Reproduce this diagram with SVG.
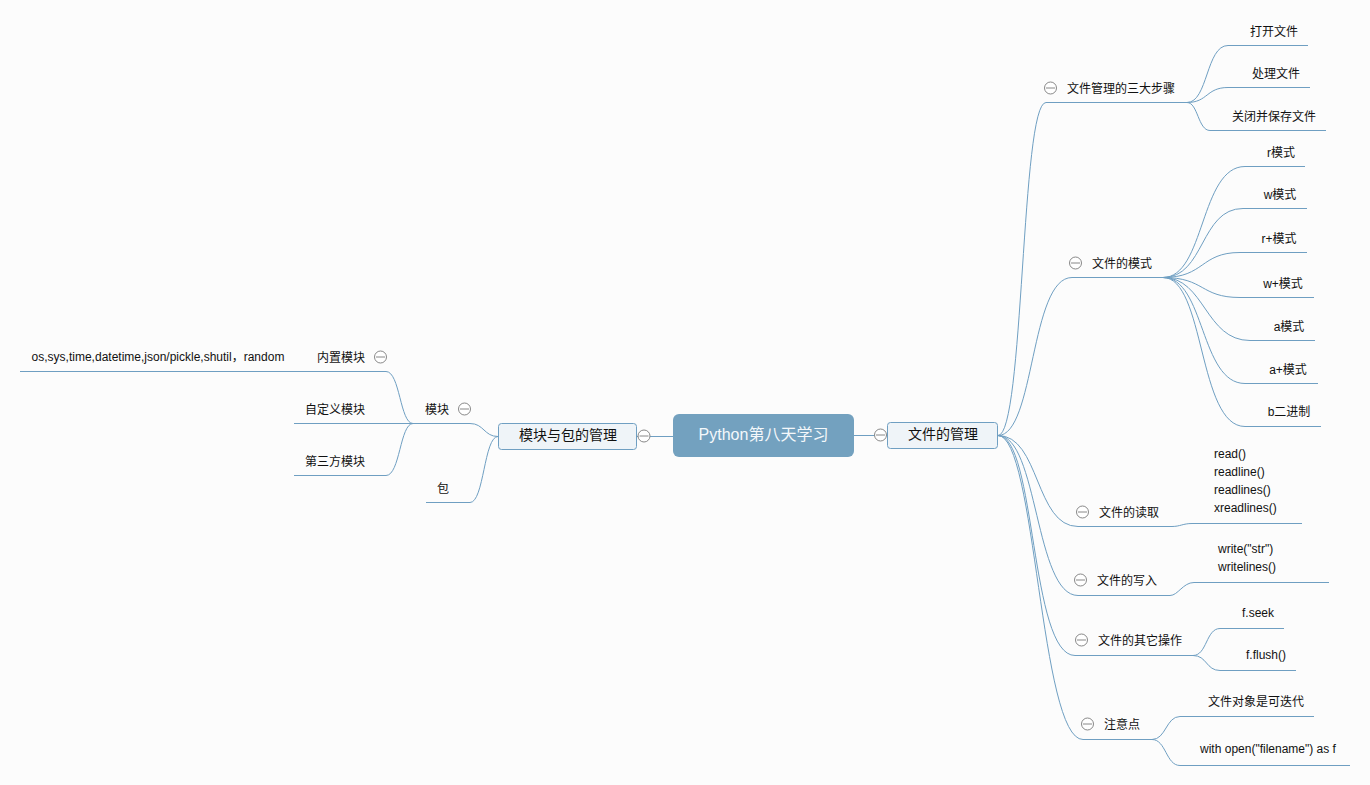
<svg xmlns="http://www.w3.org/2000/svg" width="1370" height="785" viewBox="0 0 1370 785">
<style>
text{font-family:"Liberation Sans","Noto Sans CJK SC",sans-serif;font-size:12px;fill:#111;text-anchor:middle}
.c{fill:none;stroke:#6f9fc2;stroke-width:1}
.m{fill:#fff;stroke:#888;stroke-width:1}
.d{stroke:#888;stroke-width:1}
.t{fill:#eff4f8;stroke:#6f9fc2;stroke-width:1}
.b{font-size:14px}
.s{text-anchor:start}
</style>
<defs><g id="minus"><circle class="m" r="6"/><line class="d" x1="-4.5" x2="4.5"/></g></defs>
<rect width="1370" height="785" fill="#fcfcfc"/>
<g id="connectors" transform="translate(0 .5)">
<path class="c" d="M854 435H887M637 436H673"/>
<path class="c" d="M998 435C1024 435 1021 102 1046 102H1187"/>
<path class="c" d="M998 435C1035 435 1030 277 1072 277H1163"/>
<path class="c" d="M998 435C1040 435 1035 526 1078 526H1172C1180 526 1183 523 1192 523H1302"/>
<path class="c" d="M998 435C1038 435 1035 595 1078 595H1170C1178 595 1183 582 1194 582H1329"/>
<path class="c" d="M998 435C1036 435 1030 655 1075 655H1193"/>
<path class="c" d="M998 435C1036 435 1040 739 1083 739H1152"/>
<path class="c" d="M1187 102C1208 102 1206 45 1228 45H1308"/>
<path class="c" d="M1187 102C1208 102 1206 87 1228 87H1310"/>
<path class="c" d="M1187 102C1198 102 1198 130 1210 130H1326"/>
<path class="c" d="M1163 277C1205 277 1200 166 1245 166H1305"/>
<path class="c" d="M1163 277C1205 277 1200 208 1243 208H1307"/>
<path class="c" d="M1163 277C1205 277 1200 252 1240 252H1307"/>
<path class="c" d="M1163 277C1205 277 1200 297 1240 297H1314"/>
<path class="c" d="M1163 277C1205 277 1205 340 1250 340H1315"/>
<path class="c" d="M1163 277C1205 277 1200 383 1245 383H1318"/>
<path class="c" d="M1163 277C1205 277 1198 426 1245 426H1321"/>
<path class="c" d="M1193 655C1207 655 1206 628 1220 628H1284"/>
<path class="c" d="M1193 655C1207 655 1206 670 1220 670H1296"/>
<path class="c" d="M1152 739C1166 739 1166 716 1180 716H1314"/>
<path class="c" d="M1152 739C1166 739 1166 765 1180 765H1350"/>
<path class="c" d="M498 436C484 436 484 423 470 423H413"/>
<path class="c" d="M498 436C484 436 484 502 470 502H426"/>
<path class="c" d="M413 423C400 423 400 371 386 371H20"/>
<path class="c" d="M413 423H294"/>
<path class="c" d="M413 423C400 423 400 475 386 475H294"/>
</g>
<g id="root"><rect x="673" y="414" width="181" height="43" rx="6" fill="#73a1bf"/><text x="763.500" y="440" style="font-size:16px;fill:#f4f8fb">Python第八天学习</text></g>
<g id="n-file"><rect class="t" x="887.500" y="422.500" width="110" height="26" rx="3"/><text class="b" x="943" y="439">文件的管理</text><use href="#minus" x="880.500" y="435"/></g>
<g id="n-module-pkg"><rect class="t" x="498.500" y="423.500" width="138" height="26" rx="3"/><text class="b" x="568" y="440">模块与包的管理</text><use href="#minus" x="644" y="436"/></g>
<g id="n-steps"><text x="1121" y="93">文件管理的三大步骤</text><use href="#minus" x="1050.500" y="88"/></g>
<g id="n-open"><text x="1274" y="36">打开文件</text></g>
<g id="n-proc"><text x="1276" y="78">处理文件</text></g>
<g id="n-close"><text x="1274" y="121">关闭并保存文件</text></g>
<g id="n-modes"><text x="1122" y="268">文件的模式</text><use href="#minus" x="1075.500" y="263"/></g>
<g id="n-r"><text x="1281" y="157">r模式</text></g>
<g id="n-w"><text x="1280" y="199">w模式</text></g>
<g id="n-rp"><text x="1279" y="243">r+模式</text></g>
<g id="n-wp"><text x="1283" y="288">w+模式</text></g>
<g id="n-a"><text x="1289" y="331">a模式</text></g>
<g id="n-ap"><text x="1288" y="374">a+模式</text></g>
<g id="n-bin"><text x="1289" y="416">b二进制</text></g>
<g id="n-read"><text x="1129" y="517">文件的读取</text><use href="#minus" x="1082.500" y="512"/></g>
<g id="n-read-list"><text class="s" x="1214" y="458">read()</text><text class="s" x="1214" y="476">readline()</text><text class="s" x="1214" y="494">readlines()</text><text class="s" x="1214" y="512">xreadlines()</text></g>
<g id="n-write"><text x="1127" y="585">文件的写入</text><use href="#minus" x="1080.500" y="580"/></g>
<g id="n-write-list"><text class="s" x="1218" y="553">write("str")</text><text class="s" x="1218" y="571">writelines()</text></g>
<g id="n-other"><text x="1140" y="645">文件的其它操作</text><use href="#minus" x="1081.500" y="640"/></g>
<g id="n-seek"><text x="1258" y="617">f.seek</text></g>
<g id="n-flush"><text x="1266" y="659">f.flush()</text></g>
<g id="n-note"><text x="1122" y="729">注意点</text><use href="#minus" x="1087.500" y="724"/></g>
<g id="n-iter"><text x="1256" y="706">文件对象是可迭代</text></g>
<g id="n-with"><text x="1268" y="753">with open("filename") as f</text></g>
<g id="n-module"><text x="437" y="414">模块</text><use href="#minus" x="464.500" y="409"/></g>
<g id="n-builtin"><text x="341" y="362">内置模块</text><use href="#minus" x="380.500" y="357"/></g>
<g id="n-builtin-list"><text x="158" y="361">os,sys,time,datetime,json/pickle,shutil，random</text></g>
<g id="n-custom"><text x="335" y="414">自定义模块</text></g>
<g id="n-third"><text x="335" y="466">第三方模块</text></g>
<g id="n-pkg"><text x="443" y="493">包</text></g>
</svg>
